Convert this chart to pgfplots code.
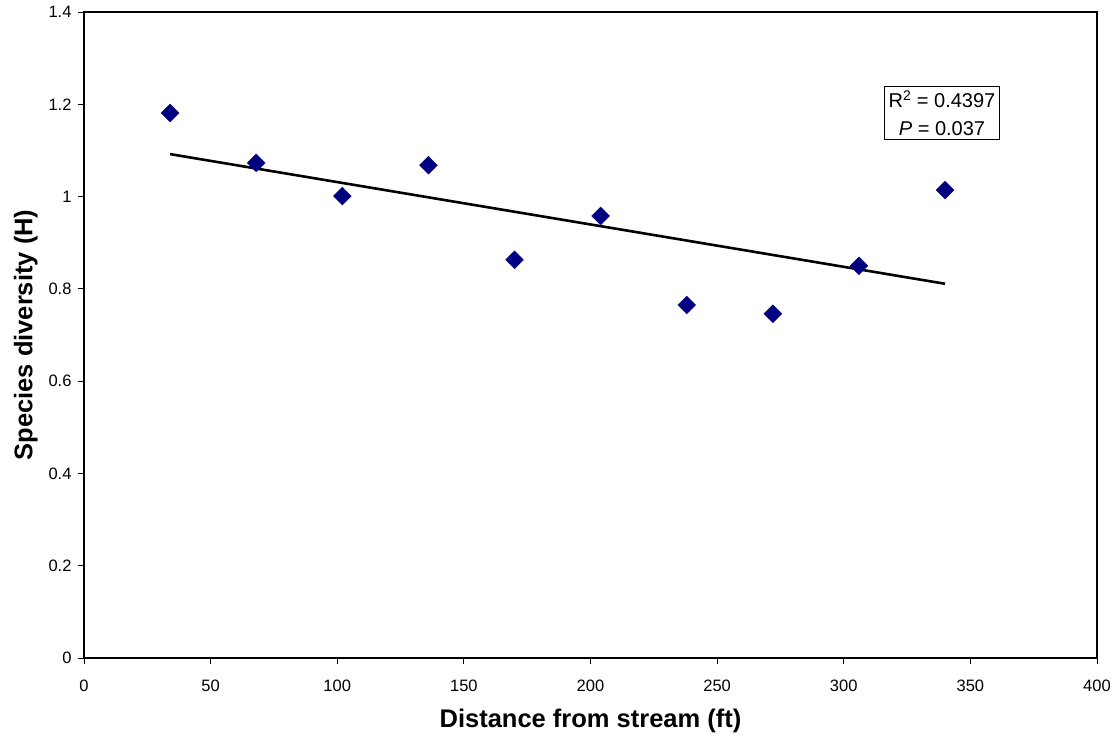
\documentclass[border=0pt]{standalone}
\usepackage{pgfplots}
\pgfplotsset{compat=1.18}
\usepackage{fontspec}
\setmainfont{Liberation Sans}
\begin{document}
\begin{tikzpicture}[x=1pt,y=1pt]
\begin{axis}[
  scale only axis,
  width=1013pt, height=646pt,
  xmin=0, xmax=400, ymin=0, ymax=1.4,
  xtick={0,50,...,400},
  ytick={0,0.2,...,1.4},
  xtick pos=bottom, ytick pos=left,
  tick align=outside,
  major tick length=6pt,
  axis line style={black, line width=1.2pt},
  tick style={black, line width=0.8pt},
  /pgf/number format/assume math mode=true,
  yticklabel style={font=\fontsize{16.5}{16.5}\selectfont, /pgf/number format/fixed, xshift=-3pt},
  xticklabel style={font=\fontsize{16.5}{16.5}\selectfont, yshift=-12pt},
  xlabel={\fontsize{25.5}{25.5}\selectfont\bfseries Distance from stream (ft)},
  ylabel={\fontsize{25.5}{25.5}\selectfont\bfseries Species diversity (H)},
  xlabel style={yshift=-11pt},
  ylabel style={yshift=4pt},
  clip=false,
]
\addplot[only marks, mark=square*, mark size=6.3pt, color={rgb,255:red,0;green,0;blue,128},
  mark options={rotate=45}] coordinates {
(34,1.181) (68,1.073) (102,1.001) (136,1.068) (170,0.863)
(204,0.958) (238,0.765) (272,0.746) (306,0.850) (340,1.014)
};
\addplot[black, line width=2.6pt, no marks] coordinates {(34,1.092) (340,0.811)};
\node[draw=black, line width=0.8pt, fill=white, align=center, inner sep=4pt,
  font=\fontsize{20}{28}\selectfont] at (axis cs:338.8,1.181)
  {R\textsuperscript{2} = 0.4397\\ \textit{P} = 0.037};
\end{axis}
\pgfresetboundingbox
\path[use as bounding box] ([shift={(-84pt,-80pt)}]current axis.south west) rectangle ([shift={(20pt,12pt)}]current axis.north east);
\end{tikzpicture}
\end{document}
